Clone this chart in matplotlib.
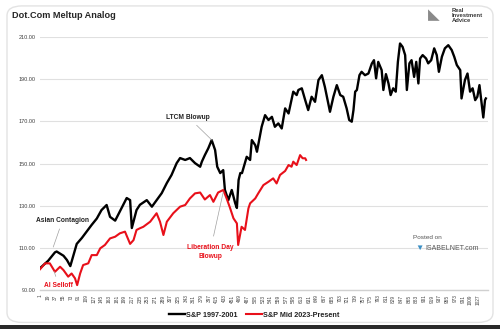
import numpy as np
import matplotlib.pyplot as plt
from matplotlib.patches import FancyBboxPatch, Rectangle

plt.rcParams['font.family'] = ['Liberation Sans', 'DejaVu Sans']

# S&P 500 1997-2001, rebased to 100 (trading day, level)
dot_days = [1, 20, 36, 40, 56, 64, 72, 87, 99, 122, 134, 145, 157, 165, 177, 192, 204, 212, 216,
            227, 235, 251, 263, 274, 286, 298, 309, 321, 329, 341, 352, 364, 376, 380, 387, 395,
            403, 411, 416, 423, 430, 434, 442, 450, 458, 462, 466, 470, 474, 485, 493, 497, 505,
            509, 520, 528, 536, 544, 551, 559, 567, 575, 583, 594, 602, 606, 614, 622, 629, 637,
            645, 653, 661, 668, 680, 688, 696, 704, 711, 719, 725, 731, 735, 739, 743, 749, 754,
            762, 770, 778, 783, 788, 793, 801, 805, 811, 817, 822, 828, 834, 839, 844, 850, 856,
            860, 866, 871, 877, 882, 887, 891, 897, 905, 910, 917, 924, 930, 935, 942, 949, 957,
            965, 971, 977, 985, 988, 996, 1002, 1008, 1014, 1020, 1025, 1030, 1035, 1039, 1043, 1045]
dot_vals = [100.5, 104.0, 108.0, 108.4, 106.4, 104.4, 101.5, 112.0, 114.8, 121.0, 124.0, 128.0, 130.4,
            124.8, 123.0, 129.0, 133.7, 132.7, 119.5, 128.0, 130.5, 132.7, 129.6, 132.7, 136.0, 140.8,
            144.6, 150.2, 152.6, 151.7, 152.6, 150.2, 148.5, 150.9, 154.0, 157.2, 161.1, 156.4, 148.5,
            145.5, 146.9, 137.5, 132.7, 137.5, 131.3, 129.0, 142.2, 145.5, 145.5, 153.2, 151.7, 161.1,
            158.7, 155.6, 167.4, 172.9, 170.6, 172.1, 167.4, 169.0, 166.6, 176.1, 173.7, 184.0, 182.4,
            184.8, 185.6, 180.0, 175.3, 181.6, 179.2, 189.5, 191.8, 186.3, 174.5, 181.6, 187.1, 182.4,
            181.6, 176.1, 170.6, 169.8, 175.3, 184.0, 184.8, 191.8, 193.4, 191.8, 192.6, 197.3, 198.9,
            190.3, 198.1, 194.2, 184.8, 192.3, 187.9, 182.4, 185.6, 184.0, 198.1, 206.8, 205.2, 201.3,
            184.8, 197.4, 198.9, 191.0, 198.1, 187.9, 199.7, 201.3, 199.7, 197.4, 198.9, 204.5, 201.3,
            193.4, 200.5, 204.5, 206.0, 203.7, 200.5, 196.6, 194.2, 180.8, 189.5, 192.6, 184.0, 185.6,
            180.0, 181.6, 187.1, 178.5, 171.8, 180.0, 180.8]

# S&P 500 mid 2023 to present, rebased to 100
now_days = [1, 13, 24, 36, 48, 56, 67, 75, 83, 88, 95, 102, 114, 122, 134, 142, 153, 165, 177, 188,
            200, 212, 220, 227, 235, 243, 259, 274, 282, 290, 298, 313, 329, 341, 352, 364, 376, 387,
            399, 407, 418, 430, 438, 446, 454, 462, 465, 473, 481, 489, 493, 505, 512, 524, 536, 547,
            555, 563, 575, 583, 590, 594, 602, 610, 616, 622, 624]
now_vals = [100.0, 102.8, 102.8, 98.8, 101.2, 99.6, 96.5, 98.0, 95.7, 92.5, 98.0, 102.0, 102.8, 106.7,
            106.7, 109.9, 111.5, 114.6, 115.4, 117.0, 117.8, 112.0, 113.8, 118.6, 119.4, 120.1, 122.5,
            126.5, 122.5, 116.2, 122.5, 126.5, 129.6, 130.4, 133.5, 135.9, 136.3, 133.0, 135.1, 131.9,
            136.3, 137.5, 133.5, 129.0, 124.1, 121.7, 111.5, 120.1, 118.6, 128.8, 131.2, 133.5, 135.9,
            139.8, 141.4, 143.0, 140.6, 144.6, 146.5, 149.3, 148.5, 150.9, 149.3, 154.0, 152.5, 152.5,
            151.7]

x_ticks = list(range(1, 1028, 18))
y_ticks = [90, 110, 130, 150, 170, 190, 210]

fig = plt.figure(figsize=(5, 3.29), dpi=100)

# card background with rounded border
card = FancyBboxPatch((0.014, 0.02), 0.972, 0.962, boxstyle="round,pad=0,rounding_size=0.03",
                      transform=fig.transFigure, facecolor='white', edgecolor='#e3e3e3', lw=1.0,
                      zorder=-2)
fig.patches.append(card)
fig.patches.append(Rectangle((0, 0), 1, 0.012, transform=fig.transFigure,
                             facecolor='#2a2a2a', edgecolor='none', zorder=-2))

ax = fig.add_axes([0.08, 0.1173, 0.896, 0.7711])
ax.set_facecolor('none')
ax.plot(dot_days, dot_vals, color='black', lw=1.7, label='S&P 1997-2001', zorder=3)
ax.plot(now_days, now_vals, color='#e8101a', lw=1.5, label='S&P Mid 2023-Present', zorder=3)

ax.set_xlim(1, 1050)
ax.set_ylim(90, 210)
ax.set_yticks(y_ticks)
ax.set_yticklabels(['%.2f' % v for v in y_ticks], fontsize=4, color='#404040')
ax.set_xticks(x_ticks)
ax.set_xticklabels([str(t) for t in x_ticks], fontsize=3.4, rotation=90, color='#404040')
ax.tick_params(length=0, pad=3)
ax.grid(axis='y', color='#e0e0e0', lw=0.8, zorder=0)
for s in ['top', 'right', 'left']:
    ax.spines[s].set_visible(False)
ax.spines['bottom'].set_color('#d0d0d0')
ax.spines['bottom'].set_linewidth(1.0)

# event callouts
ax.annotate('LTCM Blowup', xy=(404, 161), xytext=(348, 172), fontsize=4.8, fontweight='bold',
            color='#222222', ha='center', va='center',
            arrowprops=dict(arrowstyle='-', color='#a0a0a0', lw=0.5, shrinkA=2, shrinkB=0))
ax.annotate('Asian Contagion', xy=(32, 110.5), xytext=(54, 123.3), fontsize=4.8, fontweight='bold',
            color='#222222', ha='center', va='center',
            arrowprops=dict(arrowstyle='-', color='#a0a0a0', lw=0.5, shrinkA=2, shrinkB=0))
ax.annotate('AI Selloff', xy=(34, 99), xytext=(45, 92.4), fontsize=4.8, fontweight='bold',
            color='#e8101a', ha='center', va='center',
            arrowprops=dict(arrowstyle='-', color='#a0a0a0', lw=0.5, shrinkA=2, shrinkB=0))
ax.annotate('Liberation Day\nBlowup', xy=(430, 136.5), xytext=(399, 108.0), fontsize=4.8,
            fontweight='bold', color='#e8101a', ha='center', va='center', linespacing=1.4,
            arrowprops=dict(arrowstyle='-', color='#a0a0a0', lw=0.5, shrinkA=4, shrinkB=0))

fig.text(0.024, 0.953, 'Dot.Com Meltup Analog', fontsize=6.6, fontweight='bold', color='#262626',
         ha='left', va='center')

# publisher marks
fig.text(0.868, 0.955, '\u25E3', fontsize=11, color='#8a8a8a', ha='center', va='center')
fig.text(0.903, 0.953, 'Real\nInvestment\nAdvice', fontsize=4.2, fontweight='bold', color='#3a3a3a',
         ha='left', va='center', linespacing=0.95)
fig.text(0.826, 0.277, 'Posted on', fontsize=4.6, color='#555555', ha='left', va='center')
fig.text(0.838, 0.244, '\u25BC', fontsize=6, color='#3b8fc4', ha='center', va='center')
fig.text(0.851, 0.244, 'ISABELNET.com', fontsize=5, color='#555555', ha='left', va='center')

fig.legend(loc='center', bbox_to_anchor=(0.508, 0.042), ncol=2, frameon=False,
           prop={'size': 5.2, 'weight': 'bold'}, handlelength=2.2, handletextpad=0.1,
           columnspacing=1.2, labelcolor='#222222')

plt.savefig('out.png', dpi=100)
